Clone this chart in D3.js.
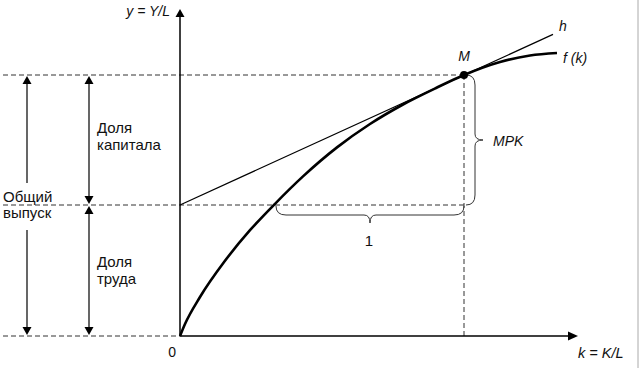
<!DOCTYPE html>
<html>
<head>
<meta charset="utf-8">
<script src="https://cdn.jsdelivr.net/npm/d3@7"></script>
<style>
  body { margin: 0; background: #fff; }
  svg { display: block; }
  text { font-family: "Liberation Sans", Arial, sans-serif; fill: #111; }
  .it { font-style: italic; }
</style>
</head>
<body>
<div id="chart"></div>
<script>
// production function f(k)
const kValues = [0, 0.125, 0.5, 1.125, 1.75, 2.375, 3.075, 3.925, 4.75, 5.575, 6.425, 7.1, 8.0, 8.75, 9.425];
const fValues = [0, 0.3, 0.975, 1.88, 2.645, 3.305, 3.99, 4.715, 5.3, 5.7875, 6.2125, 6.525, 6.85, 7.0125, 7.075];

// tangent h at point M
const tangentK = [0, 9.325];
const tangentY = [3.275, 7.54];
const pointM = [7.1, 6.525];
const crossK = 2.35;           // where f(k) meets the intercept level
const levels = [0, 3.275, 6.525];

const axisMax = [9.95, 8.175]; // arrow tips of the k and y axes

const W = 642, H = 368;

const svg = d3.select('#chart')
  .append('svg')
  .attr('width', W)
  .attr('height', H);

const x = d3.scaleLinear().domain([0, 10]).range([180, 580]);
const y = d3.scaleLinear().domain([0, 8]).range([336, 16]);

const left = 3;       // dashed guides start
const totalX = 27;    // "Общий выпуск" arrow
const shareX = 89;    // share arrows

// right border of the scan
svg.append('line')
  .attr('x1', 638).attr('x2', 638).attr('y1', 0).attr('y2', H)
  .attr('stroke', '#aaa').attr('stroke-width', 1);

// arrow head helper, (tx,ty) tip, direction dx,dy
function head(tx, ty, dx, dy, len, half) {
  const bx = tx - dx * len, by = ty - dy * len;
  const px = -dy * half, py = dx * half;
  svg.append('path')
    .attr('d', `M${tx},${ty}L${bx + px},${by + py}L${bx - px},${by - py}Z`)
    .attr('fill', '#000');
}

// dashed guides
const dash = svg.append('g')
  .attr('stroke', '#333')
  .attr('stroke-width', 1)
  .attr('stroke-dasharray', '5,3')
  .attr('fill', 'none');

levels.forEach(v => {
  const xEnd = v === 0 ? x(0) : x(pointM[0]);
  dash.append('line')
    .attr('x1', left).attr('x2', xEnd)
    .attr('y1', y(v)).attr('y2', y(v));
});
dash.append('line')
  .attr('x1', x(pointM[0])).attr('x2', x(pointM[0]))
  .attr('y1', y(pointM[1])).attr('y2', y(0));

// axes
svg.append('line')
  .attr('x1', x(0)).attr('x2', x(0))
  .attr('y1', y(0)).attr('y2', y(axisMax[1]) + 6)
  .attr('stroke', '#000').attr('stroke-width', 1.5);
head(x(0), y(axisMax[1]), 0, -1, 8, 4.5);

svg.append('line')
  .attr('x1', x(0)).attr('x2', x(axisMax[0]) - 6)
  .attr('y1', y(0)).attr('y2', y(0))
  .attr('stroke', '#000').attr('stroke-width', 1.5);
head(x(axisMax[0]), y(0), 1, 0, 10, 4.5);

// left arrows
const arrows = svg.append('g')
  .attr('stroke', '#000')
  .attr('stroke-width', 1.2);

// total output, broken around its label
arrows.append('line')
  .attr('x1', totalX).attr('x2', totalX)
  .attr('y1', y(levels[2]) + 6).attr('y2', 183);
arrows.append('line')
  .attr('x1', totalX).attr('x2', totalX)
  .attr('y1', 230).attr('y2', y(levels[0]) - 6);
head(totalX, y(levels[2]) + 1, 0, -1, 8, 4.5);
head(totalX, y(levels[0]) - 1, 0, 1, 8, 4.5);

// capital and labour shares
[[levels[2], levels[1]], [levels[1], levels[0]]].forEach(([a, b]) => {
  arrows.append('line')
    .attr('x1', shareX).attr('x2', shareX)
    .attr('y1', y(a) + 6).attr('y2', y(b) - 6);
  head(shareX, y(a) + 1, 0, -1, 8, 4.5);
  head(shareX, y(b) - 1, 0, 1, 8, 4.5);
});

// curly brace along p1 -> p2, bulging to the side of normal n
function brace(p1, p2, n, q, d, r, r2) {
  const L = Math.hypot(p2[0] - p1[0], p2[1] - p1[1]);
  const u = [(p2[0] - p1[0]) / L, (p2[1] - p1[1]) / L];
  const P = (s, t) => [p1[0] + u[0] * s + n[0] * t, p1[1] + u[1] * s + n[1] * t].join(',');
  const m = L / 2;
  return `M${P(0, 0)}Q${P(0, q)} ${P(r, q)}L${P(m - r2, q)}Q${P(m, q)} ${P(m, d)}` +
         `Q${P(m, q)} ${P(m + r2, q)}L${P(L - r, q)}Q${P(L, q)} ${P(L, 0)}`;
}

const braces = svg.append('g')
  .attr('fill', 'none')
  .attr('stroke', '#333')
  .attr('stroke-width', 1);

braces.append('path')
  .attr('d', brace([x(pointM[0]) + 2, y(pointM[1])], [x(pointM[0]) + 2, y(levels[1])], [1, 0], 9, 17, 10, 6));
braces.append('path')
  .attr('d', brace([x(crossK) + 2, y(levels[1]) + 1], [x(pointM[0]), y(levels[1]) + 1], [0, 1], 9, 17, 10, 6));

// tangent h
svg.append('line')
  .attr('x1', x(tangentK[0])).attr('y1', y(tangentY[0]))
  .attr('x2', x(tangentK[1])).attr('y2', y(tangentY[1]))
  .attr('stroke', '#000').attr('stroke-width', 1.2);

// f(k)
const line = d3.line()
  .x((d, i) => x(kValues[i]))
  .y(d => y(d))
  .curve(d3.curveMonotoneX);

svg.append('path')
  .attr('d', line(fValues))
  .attr('fill', 'none')
  .attr('stroke', '#000')
  .attr('stroke-width', 2.6);

svg.append('circle')
  .attr('cx', x(pointM[0])).attr('cy', y(pointM[1]))
  .attr('r', 4).attr('fill', '#000');

// labels
function label(tx, ty, s, cls, anchor, size) {
  svg.append('text')
    .attr('x', tx).attr('y', ty)
    .attr('class', cls || null)
    .attr('text-anchor', anchor || 'start')
    .attr('font-size', size || 15)
    .text(s);
}

label(170, 16, 'y = Y/L', 'it', 'end', 14);
label(578, 358, 'k = K/L', 'it', 'start', 14.5);
label(176, 357, '0', null, 'end', 14);
label(x(pointM[0]), 61, 'M', 'it', 'middle', 14);
label(559, 31, 'h', 'it', 'start', 14);
label(563, 63, 'f (k)', 'it', 'start', 14);
label(493, 146, 'MPK', 'it', 'start', 14);
label(369, 246, '1', null, 'middle', 15);

label(97, 133, 'Доля');
label(97, 150, 'капитала');
label(97, 267, 'Доля');
label(97, 284, 'труда');
label(3, 202, 'Общий');
label(3, 218, 'выпуск');
</script>
</body>
</html>
